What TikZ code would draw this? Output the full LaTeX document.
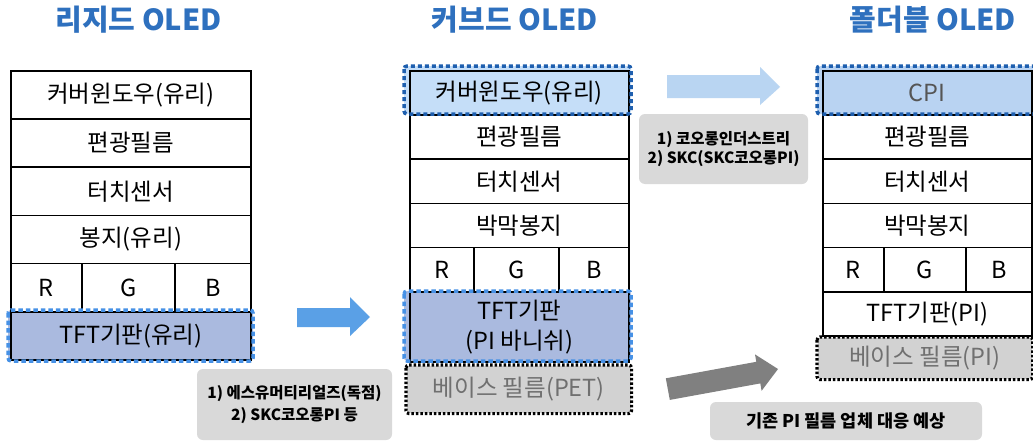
\documentclass[tikz,border=0pt]{standalone}
\usepackage{fontspec}
\newfontfamily\kr{Noto Sans CJK KR}
\definecolor{titleblue}{RGB}{46,112,190}
\definecolor{arrowblue}{RGB}{90,160,230}
\definecolor{lightarrow}{RGB}{185,213,242}
\definecolor{arrowgray}{RGB}{128,128,128}
\definecolor{tftfill}{RGB}{170,186,223}
\definecolor{coverfill}{RGB}{197,222,248}
\definecolor{cpifill}{RGB}{185,211,242}
\definecolor{basefill}{RGB}{210,210,210}
\definecolor{boxgray}{RGB}{217,217,217}
\definecolor{dashlight}{RGB}{70,145,230}
\definecolor{dashdark}{RGB}{30,95,175}
\definecolor{basetext}{RGB}{112,112,112}
\definecolor{cpitext}{RGB}{85,85,85}
\begin{document}
\begin{tikzpicture}[x=1pt,y=-1pt,
  row/.style={draw=black, line width=1.6pt, fill=white, inner sep=0pt, anchor=north west,
    font=\kr\fontsize{23.5}{28}\selectfont},
  title/.style={font=\kr\bfseries\fontsize{29}{33}\selectfont, text=titleblue, inner sep=0pt},
  lightdash/.style={draw=dashlight, line width=3.5pt, dash pattern=on 4.5pt off 3pt, rounded corners=3pt},
  darkdash/.style={draw=dashdark, line width=3.5pt, dash pattern=on 4pt off 3pt, rounded corners=3pt},
  blackdot/.style={draw=black, line width=3.2pt, dash pattern=on 2.5pt off 2pt, rounded corners=3pt},
  graybox/.style={fill=boxgray, rounded corners=6pt, inner sep=0pt, align=center},
]
\clip (0,0) rectangle (1033,442);
\fill[white] (0,0) rectangle (1033,442);

% titles
\node[title] (t1) at (138.5,20) {리지드 OLED};
\node[title] (t2) at (515,20) {커브드 OLED};
\node[title] (t3) at (933,20) {폴더블 OLED};

% background fills for highlighted layers
\fill[tftfill, rounded corners=3pt] (8,310) rectangle (253,361);
\fill[coverfill, rounded corners=3pt] (404,66) rectangle (631,114);
\fill[tftfill, rounded corners=3pt] (404,291) rectangle (631,361);
\fill[cpifill, rounded corners=3pt] (817,66) rectangle (1036,114);

% left stack
\node[row, minimum width=240pt, minimum height=48.2pt] (l1) at (10,70) {커버윈도우(유리)};
\node[row, minimum width=240pt, minimum height=48.2pt] (l2) at (10,118.2) {편광필름};
\node[row, minimum width=240pt, minimum height=48.2pt] (l3) at (10,166.4) {터치센서};
\node[row, minimum width=240pt, minimum height=48.2pt] (l4) at (10,214.6) {봉지(유리)};
\node[row, minimum width=71pt, minimum height=48.2pt] (lr) at (10,262.8) {R};
\node[row, minimum width=93pt, minimum height=48.2pt] (lg) at (81,262.8) {G};
\node[row, minimum width=76pt, minimum height=48.2pt] (lb) at (174,262.8) {B};
\node[row, fill=tftfill, minimum width=240pt, minimum height=48.2pt] (l6) at (10,311) {TFT기판(유리)};
\draw[lightdash] (8,310) rectangle (253,361);

% middle stack
\node[row, fill=coverfill, minimum width=219pt, minimum height=44.2pt] (m1) at (409,70) {커버윈도우(유리)};
\node[row, minimum width=219pt, minimum height=44.2pt] (m2) at (409,114.2) {편광필름};
\node[row, minimum width=219pt, minimum height=44.2pt] (m3) at (409,158.4) {터치센서};
\node[row, minimum width=219pt, minimum height=44.2pt] (m4) at (409,202.6) {박막봉지};
\node[row, minimum width=64pt, minimum height=44.2pt] (mr) at (409,246.8) {R};
\node[row, minimum width=85pt, minimum height=44.2pt] (mg) at (473,246.8) {G};
\node[row, minimum width=70pt, minimum height=44.2pt] (mb) at (558,246.8) {B};
\node[row, fill=tftfill, minimum width=219pt, minimum height=70pt, align=center,
  font=\kr\fontsize{23.5}{30}\selectfont] (m6) at (409,291) {TFT기판\\(PI 바니쉬)};
\draw[darkdash] (404,66) rectangle (631,114);
\draw[lightdash] (404,291) rectangle (631,361);
\node[row, draw=none, fill=basefill, text=basetext, rounded corners=3pt, minimum width=224pt, minimum height=47pt] (m7) at (406,365) {베이스 필름(PET)};
\draw[blackdot] (m7.north west) rectangle (m7.south east);

% right stack
\node[row, fill=cpifill, text=cpitext, minimum width=209pt, minimum height=44.2pt] (r1) at (822,70) {CPI};
\node[row, minimum width=209pt, minimum height=44.2pt] (r2) at (822,114.2) {편광필름};
\node[row, minimum width=209pt, minimum height=44.2pt] (r3) at (822,158.4) {터치센서};
\node[row, minimum width=209pt, minimum height=44.2pt] (r4) at (822,202.6) {박막봉지};
\node[row, minimum width=61pt, minimum height=44.2pt] (rr) at (822,246.8) {R};
\node[row, minimum width=82pt, minimum height=44.2pt] (rg) at (883,246.8) {G};
\node[row, minimum width=66pt, minimum height=44.2pt] (rb) at (965,246.8) {B};
\node[row, minimum width=209pt, minimum height=44.2pt] (r6) at (822,291) {TFT기판(PI)};
\draw[darkdash] (817,66) rectangle (1036,114);
\node[row, draw=none, fill=basefill, text=basetext, rounded corners=3pt, minimum width=214pt, minimum height=41pt] (r7) at (817,337) {베이스 필름(PI)};
\draw[blackdot] (r7.north west) rectangle (r7.south east);

% arrows
\fill[arrowblue] (297,308) -- (350,308) -- (350,297) -- (370,317) -- (350,336) -- (350,327) -- (297,327) -- cycle;
\fill[lightarrow] (667,75) -- (760,75) -- (760,67) -- (780,87) -- (760,105) -- (760,98) -- (667,98) -- cycle;
\fill[arrowgray] (665.8,378.3) -- (756.3,361.8) -- (755.0,354.4) -- (778,369) -- (761.6,390.8) -- (760.3,383.4) -- (669.8,399.9) -- cycle;

% gray note boxes
\node[graybox, minimum width=195pt, minimum height=71pt, font=\kr\bfseries\fontsize{15.5}{22}\selectfont] (n1) at (294.5,404.5) {1) 에스유머티리얼즈(독점)\\2) SKC코오롱PI 등};
\node[graybox, minimum width=169pt, minimum height=70pt, font=\kr\bfseries\fontsize{15.5}{19}\selectfont] (n2) at (723.5,149) {1) 코오롱인더스트리\\2) SKC(SKC코오롱PI)};
\node[graybox, minimum width=272pt, minimum height=38pt, font=\kr\bfseries\fontsize{17.5}{20}\selectfont] (n3) at (846,421) {기존 PI 필름 업체 대응 예상};
\end{tikzpicture}
\end{document}
